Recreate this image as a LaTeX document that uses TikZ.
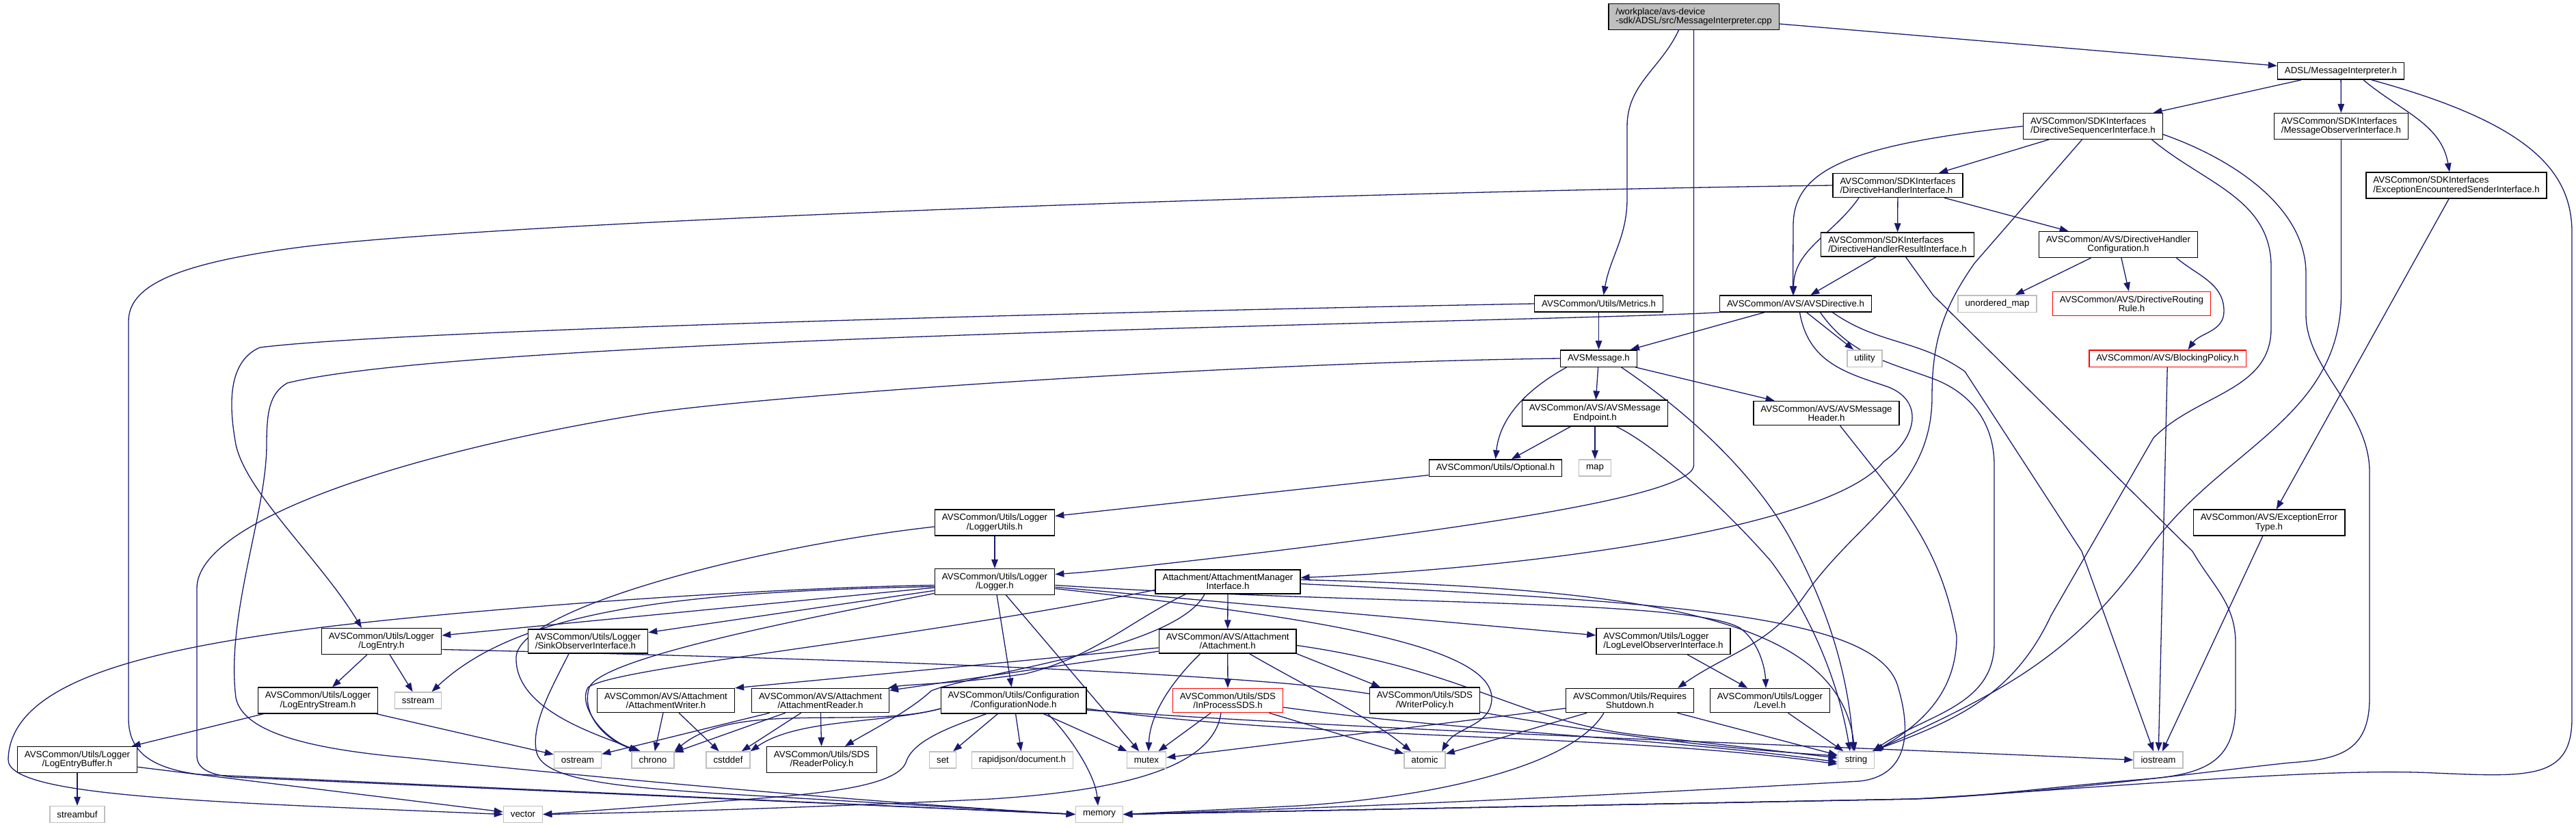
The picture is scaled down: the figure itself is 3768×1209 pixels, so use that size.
\documentclass[tikz,border=0pt]{standalone}
\usepackage{fontspec}
\setmainfont{Liberation Sans}
\usetikzlibrary{arrows.meta,backgrounds}
\definecolor{edgeblue}{HTML}{191970}
\definecolor{gray75}{HTML}{BFBFBF}
\begin{document}
\begin{tikzpicture}[x=1pt,y=-1pt,
  inc/.style={draw=black,line width=1.4pt,fill=white,inner xsep=10.5pt,inner ysep=6pt,
    minimum height=24pt,align=center,font=\fontsize{13.3}{13.3}\selectfont},
  sys/.style={inc,draw=gray75},
  trunc/.style={inc,draw=red},
  lft/.style={align=left},
  dep/.style={draw=edgeblue,line width=1.3pt,-{Triangle[length=13pt,width=9.5pt]}}]

\useasboundingbox (0,0) rectangle (3768,1209);

% top rows
\node[inc,lft,fill=gray75] (root) at (2477.5,24.5) {/workplace/avs-device\\-sdk/ADSL/src/MessageInterpreter.cpp};
\node[inc] (mih) at (3424,104) {ADSL/MessageInterpreter.h};
\node[inc,lft] (dsi) at (3061.5,184.5) {AVSCommon/SDKInterfaces\\/DirectiveSequencerInterface.h};
\node[inc,lft] (moi) at (3424.5,184.5) {AVSCommon/SDKInterfaces\\/MessageObserverInterface.h};
\node[inc,lft] (eesi) at (3593,271) {AVSCommon/SDKInterfaces\\/ExceptionEncounteredSenderInterface.h};
\node[inc,lft] (dhi) at (2776,271) {AVSCommon/SDKInterfaces\\/DirectiveHandlerInterface.h};
\node[inc,lft] (dhri) at (2775.5,357.5) {AVSCommon/SDKInterfaces\\/DirectiveHandlerResultInterface.h};
\node[inc] (dhc) at (3098.5,357.5) {AVSCommon/AVS/DirectiveHandler\\Configuration.h};

% middle rows
\node[sys] (umap) at (2921.5,444) {unordered\_map};
\node[trunc] (drr) at (3118,444) {AVSCommon/AVS/DirectiveRouting\\Rule.h};
\node[inc] (metrics) at (2338.5,444) {AVSCommon/Utils/Metrics.h};
\node[inc] (avsdir) at (2626.5,444) {AVSCommon/AVS/AVSDirective.h};
\node[inc] (avsmsg) at (2338.5,524) {AVSMessage.h};
\node[sys] (utility) at (2727.5,524) {utility};
\node[trunc] (bpol) at (3170.5,524) {AVSCommon/AVS/BlockingPolicy.h};
\node[inc] (endpoint) at (2333,604) {AVSCommon/AVS/AVSMessage\\Endpoint.h};
\node[inc] (header) at (2671.5,604) {AVSCommon/AVS/AVSMessage\\Header.h};
\node[inc] (optional) at (2187.5,684) {AVSCommon/Utils/Optional.h};
\node[sys] (map) at (2333,684) {map};
\node[inc] (lutils) at (1455,764) {AVSCommon/Utils/Logger\\/LoggerUtils.h};
\node[inc] (eet) at (3319,764) {AVSCommon/AVS/ExceptionError\\Type.h};
\node[inc] (logger) at (1455,850.5) {AVSCommon/Utils/Logger\\/Logger.h};
\node[inc] (ami) at (1796,850.5) {Attachment/AttachmentManager\\Interface.h};

% lower rows
\node[inc] (logentry) at (558,937.5) {AVSCommon/Utils/Logger\\/LogEntry.h};
\node[inc,lft] (sinkobs) at (860,937.5) {AVSCommon/Utils/Logger\\/SinkObserverInterface.h};
\node[inc] (attach) at (1795.7,937.5) {AVSCommon/AVS/Attachment\\/Attachment.h};
\node[inc,lft] (llo) at (2433,937.5) {AVSCommon/Utils/Logger\\/LogLevelObserverInterface.h};
\node[inc] (lestream) at (465,1024) {AVSCommon/Utils/Logger\\/LogEntryStream.h};
\node[sys] (sstream) at (611.5,1024) {sstream};
\node[inc] (awriter) at (974,1024) {AVSCommon/AVS/Attachment\\/AttachmentWriter.h};
\node[inc] (areader) at (1200,1024) {AVSCommon/AVS/Attachment\\/AttachmentReader.h};
\node[inc] (cnode) at (1482.7,1024) {AVSCommon/Utils/Configuration\\/ConfigurationNode.h};
\node[trunc] (ipsds) at (1796,1024) {AVSCommon/Utils/SDS\\/InProcessSDS.h};
\node[inc] (wpolicy) at (2084,1024) {AVSCommon/Utils/SDS\\/WriterPolicy.h};
\node[inc] (rshut) at (2384,1024) {AVSCommon/Utils/Requires\\Shutdown.h};
\node[inc] (level) at (2589,1024) {AVSCommon/Utils/Logger\\/Level.h};
\node[inc] (lebuffer) at (113,1110.5) {AVSCommon/Utils/Logger\\/LogEntryBuffer.h};
\node[sys] (ostream) at (845,1111) {ostream};
\node[sys] (chrono) at (955,1111) {chrono};
\node[sys] (cstddef) at (1065,1111) {cstddef};
\node[inc] (rpolicy) at (1202,1110.5) {AVSCommon/Utils/SDS\\/ReaderPolicy.h};
\node[sys] (set) at (1379,1111) {set};
\node[sys] (rapidjson) at (1495.5,1111) {rapidjson/document.h};
\node[sys] (mutex) at (1677,1111) {mutex};
\node[sys] (atomic) at (2084,1111) {atomic};
\node[sys] (string) at (2715,1111) {string};
\node[sys] (iostream) at (3157,1111) {iostream};
\node[sys] (streambuf) at (113,1190.5) {streambuf};
\node[sys] (vector) at (765,1190.5) {vector};
\node[sys] (memory) at (1608,1190.5) {memory};

\begin{scope}[on background layer]
% MessageInterpreter.cpp
\draw[dep] (root) -- (mih);
\draw[dep] ([xshift=-22pt]root.south) to[out=-115,in=90] (2380,185) -- (2380,290) to[out=-90,in=80] ([xshift=7pt]metrics.north);
\draw[dep] (root.south) -- (2477.5,680) .. controls (2477.5,725) and (2150,770) .. (1860,806) .. controls (1700,825) and (1600,836) .. ([yshift=11pt]logger.east);

% MessageInterpreter.h
\draw[dep] (mih) -- (dsi);
\draw[dep] (mih) -- (moi);
\draw[dep] ([xshift=33pt]mih.south) to[out=-40,in=100] ([xshift=-10pt]eesi.north);
\draw[dep] ([xshift=45pt]mih.south) .. controls (3700,180) and (3762,250) .. (3762,340) -- (3762,1050) .. controls (3762,1140) and (3700,1136) .. (3560,1130) .. controls (3400,1122) and (3100,1150) .. (2800,1168) -- (memory.east);

% DirectiveSequencerInterface.h
\draw[dep] (dsi.west) .. controls (2700,212) and (2623,250) .. (2623,330) -- ([xshift=-4pt]avsdir.north);
\draw[dep] (dsi) -- (dhi);
\draw[dep] ([xshift=-16pt]dsi.south) -- (2888,385) to[out=-125,in=90] (2826,580) to[out=-90,in=55] (2640,870) to[out=-125,in=35] ([xshift=70pt]rshut.north);
\draw[dep] ([xshift=86pt]dsi.south) to[out=-40,in=90] (3322,390) -- (3322,480) to[out=-90,in=45] (3150,640) -- (3000,900) to[out=-115,in=20] ([xshift=-4pt]string.north east);
\draw[dep] ([yshift=-12pt]dsi.east) .. controls (3260,230) and (3373,300) .. (3373,400) -- (3373,460) .. controls (3373,540) and (3466,600) .. (3466,690) -- (3466,1020) .. controls (3466,1100) and (3420,1110) .. (3350,1115) .. controls (3250,1125) and (3000,1160) .. (2800,1168) -- (memory.east);

% MessageObserverInterface.h, ExceptionEncounteredSenderInterface.h
\draw[dep] (moi.south) -- (3424.5,430) to[out=-90,in=55] (3141,806) to[out=-125,in=25] ([xshift=-2pt]string.north east);
\draw[dep] (eesi) -- (eet);

% DirectiveHandlerInterface.h
\draw[dep] (dhi) -- (dhri);
\draw[dep] (dhi) -- (dhc);
\draw[dep] ([xshift=-57pt]dhi.south) to[out=-125,in=90] ([xshift=-3pt]avsdir.north);
\draw[dep] (dhi.west) .. controls (2000,280) and (800,320) .. (450,360) .. controls (250,385) and (188,420) .. (188,470) -- (188,1050) .. controls (188,1095) and (215,1122) .. (290,1132) -- (memory.west);

% DirectiveHandlerResultInterface.h
\draw[dep] (dhri) -- (avsdir);
\draw[dep] ([xshift=12pt]dhri.south) -- (2828,432) -- (3207,806) to[out=-60,in=90] (3270,940) -- (3270,1030) .. controls (3270,1110) and (3230,1130) .. (3150,1138) .. controls (3000,1150) and (2900,1165) .. (2800,1168) -- (memory.east);

% DirectiveHandlerConfiguration.h
\draw[dep] (dhc) -- (umap);
\draw[dep] (dhc) -- (drr);
\draw[dep] ([xshift=85pt]dhc.south) to[out=-40,in=90] (3253,455) to[out=-90,in=55] ([xshift=30pt]bpol.north);
\draw[dep] (bpol) -- (iostream);
\draw[dep] (eet) -- (iostream);

% Metrics.h
\draw[dep] (metrics) -- (avsmsg);
\draw[dep] (metrics.west) .. controls (1800,452) and (600,480) .. (380,508) .. controls (330,530) and (336,600) .. (345,650) .. controls (360,720) and (470,820) .. ([xshift=-29pt]logentry.north);

% AVSDirective.h
\draw[dep] (avsdir) -- (avsmsg);
\draw[dep] (avsdir) -- (utility);
\draw[dep] ([xshift=6pt]avsdir.south) .. controls (2645,530) and (2700,545) .. (2760,565) .. controls (2815,585) and (2805,640) .. (2755,675) .. controls (2680,770) and (2250,830) .. ([yshift=6pt]ami.east);
\draw[dep] (avsdir.south west) .. controls (2300,470) and (700,490) .. (420,560) .. controls (395,575) and (390,600) .. (390,650) .. controls (390,750) and (330,900) .. (345,1020) .. controls (355,1070) and (450,1095) .. (600,1108) .. controls (900,1140) and (1300,1175) .. (memory.west);
\draw[dep] ([xshift=36pt]avsdir.south) to[out=-55,in=160] (2826,553) to[out=-20,in=90] (2917,680) -- (2917,940) to[out=-90,in=35] ([xshift=-3pt]string.north east);
\draw[dep] ([xshift=54pt]avsdir.south) to[out=-35,in=145] (2874,543) -- (3045,806) -- ([xshift=-7pt]iostream.north);

% AVSMessage.h
\draw[dep] (avsmsg) -- (endpoint);
\draw[dep] (avsmsg) -- (header);
\draw[dep] ([xshift=-47pt]avsmsg.south) .. controls (2250,560) and (2195,600) .. (optional.north);
\draw[dep] ([xshift=33pt]avsmsg.south) .. controls (2450,590) and (2560,680) .. (2620,790) .. controls (2680,900) and (2705,1000) .. ([xshift=-4pt]string.north);
\draw[dep] (avsmsg.west) .. controls (1800,530) and (1100,580) .. (942,605) .. controls (600,660) and (288,760) .. (288,860) -- (288,1105) .. controls (288,1125) and (310,1133) .. (340,1136) -- (memory.west);

% AVSMessage Endpoint.h / Header.h
\draw[dep] (endpoint) -- (optional);
\draw[dep] (endpoint) -- (map);
\draw[dep] ([xshift=31pt]endpoint.south) .. controls (2420,650) and (2520,740) .. (2590,820) .. controls (2650,900) and (2690,1000) .. ([xshift=-9pt]string.north);
\draw[dep] ([xshift=20pt]header.south) to[out=-52,in=100] (2862,930) to[out=-90,in=30] (string.north east);

% Optional.h, LoggerUtils.h
\draw[dep] (optional) -- (lutils);
\draw[dep] (lutils) -- (logger);
\draw[dep] ([yshift=-6pt]lutils.west) .. controls (1100,800) and (760,890) .. (755,960) .. controls (752,1040) and (880,1075) .. ([xshift=-22pt]chrono.north);

% Logger.h
\draw[dep] (logger) -- (cnode);
\draw[dep] (logger) -- (mutex);
\draw[dep] (logger) -- (logentry);
\draw[dep] (logger) -- (sinkobs);
\draw[dep] (logger) -- (llo);
\draw[dep] ([yshift=-7pt]logger.west) .. controls (1000,865) and (760,890) .. ([xshift=20pt]sstream.north);
\draw[dep] ([yshift=-5pt]logger.west) .. controls (1100,860) and (700,890) .. (480,916) .. controls (200,950) and (15,1000) .. (12,1110) .. controls (10,1165) and (300,1172) .. (vector.west);
\draw[dep] ([yshift=-17pt]logger.west) .. controls (1200,900) and (880,960) .. (862,1005) .. controls (850,1040) and (880,1080) .. ([xshift=-20pt]chrono.north);
\draw[dep] ([yshift=-5pt]logger.east) .. controls (2000,885) and (2470,875) .. (2545,918) .. controls (2575,940) and (2582,980) .. ([xshift=-6pt]level.north);
\draw[dep] ([yshift=-10pt]logger.east) .. controls (1900,900) and (2180,940) .. (2182,1020) to[out=-90,in=60] ([xshift=25pt]atomic.north);

% AttachmentManagerInterface.h
\draw[dep] (ami) -- (attach);
\draw[dep] ([xshift=-62pt]ami.south) .. controls (1650,910) and (1600,960) .. (1500,985) .. controls (1400,1000) and (1330,1000) .. ([xshift=-2pt]areader.north east);
\draw[dep] ([xshift=-34pt]ami.south) .. controls (1720,950) and (1420,985) .. (1362,1010) .. controls (1330,1040) and (1270,1070) .. ([xshift=34pt]rpolicy.north);
\draw[dep] ([yshift=-12pt]ami.west) .. controls (1300,940) and (900,975) .. (860,1005) .. controls (845,1030) and (880,1080) .. ([xshift=-18pt]chrono.north);
\draw[dep] ([yshift=3pt]ami.east) .. controls (2400,860) and (2690,900) .. ([xshift=-2pt]string.north);
\draw[dep] ([yshift=-3pt]ami.east) .. controls (2450,880) and (2740,900) .. (2775,1000) .. controls (2800,1080) and (2785,1135) .. (2720,1142) .. controls (2400,1160) and (2000,1180) .. (memory.east);

% Attachment.h
\draw[dep] (attach) -- (awriter.north east);
\draw[dep] (attach) -- (areader);
\draw[dep] (attach) -- (ipsds);
\draw[dep] ([xshift=-40pt]attach.south) .. controls (1720,990) and (1682,1040) .. ([xshift=3pt]mutex.north);
\draw[dep] ([xshift=32pt]attach.south) .. controls (1900,998) and (2000,1046) .. ([xshift=-20pt]atomic.north);
\draw[dep] ([yshift=-6pt]attach.east) .. controls (2150,980) and (2220,1055) .. (2400,1075) -- ([yshift=3pt]string.west);
\draw[dep] (attach.south east) -- ([xshift=-65pt]wpolicy.north);

% InProcessSDS.h
\draw[dep] (ipsds) -- (mutex);
\draw[dep] (ipsds) -- (atomic);
\draw[dep] ([xshift=-10pt]ipsds.south) .. controls (1775,1120) and (1650,1155) .. (1450,1168) .. controls (1200,1180) and (950,1188) .. (vector.east);
\draw[dep] ([yshift=-10pt]ipsds.east) .. controls (2119,1068) and (2446,1080) .. ([yshift=-3pt]string.west);

% AttachmentWriter.h, AttachmentReader.h
\draw[dep] (awriter) -- (chrono);
\draw[dep] (awriter) -- (cstddef);
\draw[dep] (areader) -- (chrono);
\draw[dep] (areader) -- (cstddef);
\draw[dep] (areader) -- (rpolicy);
\draw[dep] (areader) -- (ostream);

% ConfigurationNode.h
\draw[dep] ([yshift=-12pt]cnode.west) .. controls (1261,1067) and (1077,1023) .. (chrono.north east);
\draw[dep] ([yshift=-12pt]cnode.west) .. controls (1293,1058) and (1167,1050) .. (cstddef.north east);
\draw[dep] (cnode) -- (set);
\draw[dep] (cnode) -- (rapidjson);
\draw[dep] (cnode) -- (mutex);
\draw[dep] ([xshift=50pt]cnode.south) .. controls (1565,1076) and (1602,1132) .. ([xshift=-2pt]memory.north);
\draw[dep] ([yshift=-12pt]cnode.east) .. controls (1916,1082) and (2361,1071) .. ([yshift=-6pt]string.west);
\draw[dep] ([yshift=-14pt]cnode.east) .. controls (2050,1070) and (2660,1090) .. (iostream.west);
\draw[dep] ([xshift=-40pt]cnode.south) .. controls (1400,1060) and (1335,1080) .. (1325,1115) .. controls (1310,1150) and (1200,1160) .. (1100,1168) -- (vector.east);

% RequiresShutdown.h, Level.h, LogLevelObserverInterface.h
\draw[dep] (rshut) -- (mutex);
\draw[dep] (rshut) -- (atomic);
\draw[dep] (rshut) -- (string);
\draw[dep] ([xshift=-38pt]rshut.south) .. controls (2300,1120) and (2100,1165) .. (1900,1178) -- (memory.east);
\draw[dep] (level) -- (string);
\draw[dep] (llo) -- (level);

% LogEntry.h and the rest of the logger
\draw[dep] (logentry) -- (lestream);
\draw[dep] (logentry) -- (sstream);
\draw[dep] ([yshift=-12pt]logentry.east) .. controls (1100,960) and (1600,975) .. (1890,1000) .. controls (2100,1020) and (2300,1080) .. ([yshift=6pt]string.west);
\draw[dep] ([xshift=-28pt]sinkobs.south) .. controls (810,1000) and (775,1060) .. (785,1100) .. controls (795,1140) and (900,1150) .. (1050,1160) -- (memory.west);
\draw[dep] (lestream) -- (lebuffer);
\draw[dep] (lestream) -- (ostream);
\draw[dep] (lebuffer) -- (streambuf);
\draw[dep] (lebuffer) -- (vector);
\end{scope}

\end{tikzpicture}
\end{document}
